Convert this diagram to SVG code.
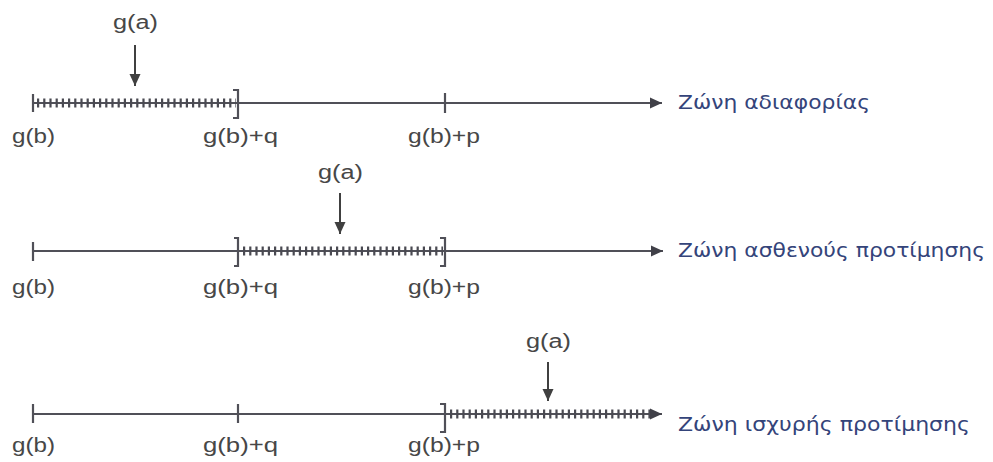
<svg xmlns="http://www.w3.org/2000/svg" width="993" height="462" viewBox="0 0 993 462">
  <style>
    .axis { stroke: #505058; stroke-width: 2; fill: none; }
    .tick { stroke: #505058; stroke-width: 2.2; fill: none; }
    .hatch { stroke: #4a4a52; stroke-width: 9; stroke-dasharray: 2.2 4; fill: none; }
    .pointer { stroke: #404040; stroke-width: 2; fill: none; }
    .lbl { font-family: "Liberation Sans", Arial, sans-serif; font-size: 20px; fill: #474747; }
    .zone { font-family: "DejaVu Sans", Verdana, sans-serif; font-size: 20px; fill: #34447a; }
  </style>
  <defs>
    <marker id="axisHead" markerUnits="userSpaceOnUse" markerWidth="14" markerHeight="12" refX="12" refY="6" orient="auto">
      <path d="M0,0.5 L12,6 L0,11.5 Z" fill="#404048"/>
    </marker>
    <marker id="ptrHead" markerUnits="userSpaceOnUse" markerWidth="14" markerHeight="14" refX="12" refY="6" orient="auto">
      <path d="M0,0.5 L12,6 L0,11.5 Z" fill="#404040"/>
    </marker>
  </defs>

  <!-- Row 1: indifference zone -->
  <g id="row-indifference">
    <line class="axis" x1="33" y1="103" x2="662" y2="103" marker-end="url(#axisHead)"/>
    <line class="hatch" x1="37" y1="103" x2="236" y2="103"/>
    <line class="tick" x1="33" y1="94" x2="33" y2="112"/>
    <path class="tick" d="M233,90 H238 V118 H233"/>
    <line class="tick" x1="445" y1="93" x2="445" y2="113"/>
    <text class="lbl" x="12" y="143" textLength="43" lengthAdjust="spacingAndGlyphs">g(b)</text>
    <text class="lbl" x="203" y="143" textLength="75" lengthAdjust="spacingAndGlyphs">g(b)+q</text>
    <text class="lbl" x="408" y="143" textLength="72" lengthAdjust="spacingAndGlyphs">g(b)+p</text>
    <text class="lbl" x="113" y="29" textLength="45" lengthAdjust="spacingAndGlyphs">g(a)</text>
    <text class="zone" x="678" y="109" textLength="192" lengthAdjust="spacingAndGlyphs">Ζώνη αδιαφορίας</text>
  </g>

  <!-- Row 2: weak preference zone -->
  <g id="row-weak">
    <line class="axis" x1="33" y1="251" x2="663" y2="251" marker-end="url(#axisHead)"/>
    <line class="hatch" x1="243" y1="251" x2="443" y2="251"/>
    <line class="tick" x1="33" y1="242" x2="33" y2="261"/>
    <path class="tick" d="M234,238 H238 V266 H234"/>
    <path class="tick" d="M440,238 H445 V266 H440"/>
    <text class="lbl" x="12" y="294" textLength="43" lengthAdjust="spacingAndGlyphs">g(b)</text>
    <text class="lbl" x="203" y="294" textLength="75" lengthAdjust="spacingAndGlyphs">g(b)+q</text>
    <text class="lbl" x="408" y="294" textLength="72" lengthAdjust="spacingAndGlyphs">g(b)+p</text>
    <text class="lbl" x="318" y="179" textLength="45" lengthAdjust="spacingAndGlyphs">g(a)</text>
    <text class="zone" x="678" y="257" textLength="307" lengthAdjust="spacingAndGlyphs">Ζώνη ασθενούς προτίμησης</text>
  </g>

  <!-- Row 3: strong preference zone -->
  <g id="row-strong">
    <line class="axis" x1="33" y1="414" x2="662" y2="414" marker-end="url(#axisHead)"/>
    <line class="hatch" x1="450" y1="414" x2="650" y2="414"/>
    <line class="tick" x1="33" y1="404" x2="33" y2="423"/>
    <line class="tick" x1="238" y1="404" x2="238" y2="423"/>
    <path class="tick" d="M440,404 H445 V432 H440"/>
    <text class="lbl" x="12" y="452" textLength="43" lengthAdjust="spacingAndGlyphs">g(b)</text>
    <text class="lbl" x="203" y="452" textLength="75" lengthAdjust="spacingAndGlyphs">g(b)+q</text>
    <text class="lbl" x="408" y="452" textLength="72" lengthAdjust="spacingAndGlyphs">g(b)+p</text>
    <text class="lbl" x="526" y="348" textLength="45" lengthAdjust="spacingAndGlyphs">g(a)</text>
    <text class="zone" x="678" y="431" textLength="292" lengthAdjust="spacingAndGlyphs">Ζώνη ισχυρής προτίμησης</text>
  </g>

  <!-- g(a) pointers -->
  <g id="connectors">
    <line class="pointer" x1="135" y1="45" x2="135" y2="86" marker-end="url(#ptrHead)"/>
    <line class="pointer" x1="340" y1="193" x2="340" y2="234" marker-end="url(#ptrHead)"/>
    <line class="pointer" x1="548" y1="362" x2="548" y2="401" marker-end="url(#ptrHead)"/>
  </g>
</svg>
